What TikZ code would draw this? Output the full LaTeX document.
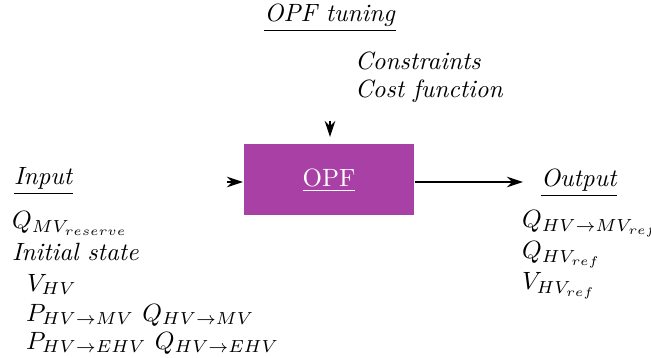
\documentclass[tikz,border=0pt]{standalone}
\usetikzlibrary{arrows.meta}
\definecolor{opfpurple}{RGB}{168,64,165}
\begin{document}
\begin{tikzpicture}[x=0.4pt,y=-0.4pt,
  txt/.style={anchor=base west,inner sep=0pt,outer sep=0pt},
  ctxt/.style={anchor=base,inner sep=0pt,outer sep=0pt},
  arr/.style={-{Stealth[length=6.4pt,width=4.2pt]},line width=0.5pt}]
\useasboundingbox (0,0) rectangle (651,358);
% box
\node[fill=opfpurple,minimum width=68pt,minimum height=28.4pt,inner sep=0pt] (opf) at (329,179.5) {};
\node[ctxt,text=white] (opft) at (329,186.5) {\underline{OPF}};
% tuning
\node[ctxt] (tun) at (330,22) {\underline{\textit{OPF tuning}}};
\node[txt] (con) at (355,70) {\textit{Constraints}};
\node[txt] (cost) at (355,98) {\textit{Cost function}};
% input
\node[txt] (inp) at (14,185) {\underline{\textit{Input}}};
\node[txt] (i1) at (12,229) {$Q_{MV_{reserve}}$};
\node[txt] (i2) at (12,261) {\textit{Initial state}};
\node[txt] (i3) at (27,291) {$V_{HV}$};
\node[txt] (i4) at (26,321) {$P_{HV\rightarrow MV}\ Q_{HV\rightarrow MV}$};
\node[txt] (i5) at (26,349) {$P_{HV\rightarrow EHV}\ Q_{HV\rightarrow EHV}$};
% output
\node[txt] (out) at (541,187) {\underline{\textit{Output}}};
\node[txt] (o1) at (522,228) {$Q_{HV\rightarrow MV_{ref}}$};
\node[txt] (o2) at (522,259) {$Q_{HV_{ref}}$};
\node[txt] (o3) at (522,290) {$V_{HV_{ref}}$};
% arrows
\coordinate (ta) at (330,121);
\coordinate (tb) at (330,137);
\draw[arr] (ta) -- (tb);
\coordinate (la) at (227,182);
\coordinate (lb) at (243,182);
\draw[arr] (la) -- (lb);
\coordinate (rb) at (523,182);
\draw[arr] (opf.east |- rb) -- (rb);
\end{tikzpicture}
\end{document}
